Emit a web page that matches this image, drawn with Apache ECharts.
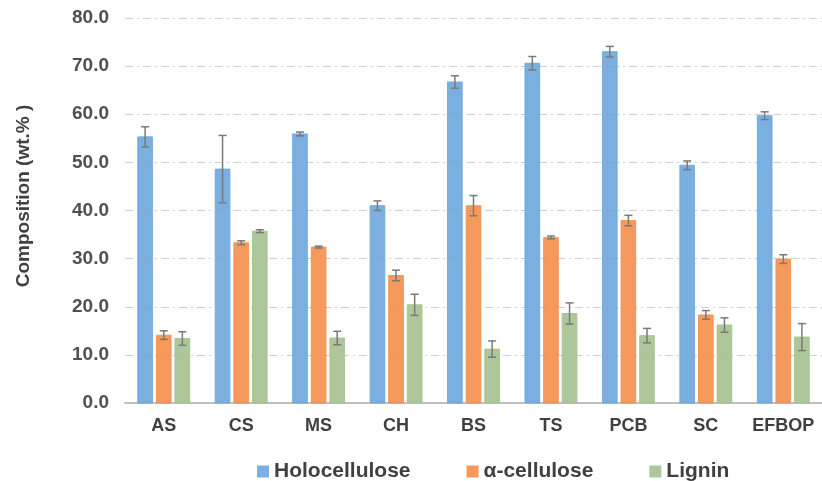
<!DOCTYPE html>
<html>
<head>
<meta charset="utf-8">
<script src="https://cdn.jsdelivr.net/npm/echarts@6/dist/echarts.min.js"></script>
<style>html,body{margin:0;padding:0;background:#fff;}#c{width:822px;height:481px;}</style>
</head>
<body>
<div id="c"></div>
<script>
var categories = ['AS', 'CS', 'MS', 'CH', 'BS', 'TS', 'PCB', 'SC', 'EFBOP'];
var seriesNames = ['Holocellulose', 'α-cellulose', 'Lignin'];
var holocellulose = [55.3, 48.6, 55.9, 41.0, 66.7, 70.6, 73.0, 49.4, 59.7];
var holoErr =       [2.1, 7.0, 0.4, 1.0, 1.3, 1.4, 1.1, 0.9, 0.8];
var alphaCellulose = [14.1, 33.3, 32.4, 26.5, 41.0, 34.4, 37.9, 18.3, 29.9];
var alphaErr =       [0.9, 0.4, 0.2, 1.1, 2.1, 0.3, 1.1, 0.9, 0.9];
var lignin =    [13.4, 35.7, 13.5, 20.4, 11.2, 18.6, 14.0, 16.2, 13.7];
var ligninErr = [1.4, 0.3, 1.4, 2.2, 1.7, 2.2, 1.5, 1.5, 2.8];
var yTicks = [0, 10, 20, 30, 40, 50, 60, 70, 80];
var yTitle = 'Composition (wt.% )';

var colors = ['#6fa8dc', '#f4914e', '#a6c293'];
var values = [holocellulose, alphaCellulose, lignin];
var errors = [holoErr, alphaErr, ligninErr];
var catGap = 0.33, barGap = 0.27, nBars = 3;
var FONT = 'Liberation Sans, Arial, sans-serif';

var series = [];
values.forEach(function (v, i) {
  series.push({
    name: seriesNames[i], type: 'bar', data: v,
    barGap: (barGap * 100) + '%', barCategoryGap: (catGap * 100) + '%',
    itemStyle: { color: colors[i], borderColor: colors[i], opacity: 0.92 }
  });
});
values.forEach(function (v, i) {
  var errData = v.map(function (val, j) { return [j, val - errors[i][j], val + errors[i][j]]; });
  series.push({
    type: 'custom', name: seriesNames[i] + '_err', z: 10, silent: true,
    data: errData,
    renderItem: function (params, api) {
      var band = api.size([1, 0])[0];
      var bw = band * (1 - catGap) / (nBars + (nBars - 1) * barGap);
      var off = (i - 1) * bw * (1 + barGap);
      var lo = api.coord([api.value(0), api.value(1)]);
      var hi = api.coord([api.value(0), api.value(2)]);
      var x = lo[0] + off, cap = 4;
      var st = { stroke: '#7a7a7a', lineWidth: 1.5 };
      return { type: 'group', children: [
        { type: 'line', shape: { x1: x, y1: lo[1], x2: x, y2: hi[1] }, style: st },
        { type: 'line', shape: { x1: x - cap, y1: lo[1], x2: x + cap, y2: lo[1] }, style: st },
        { type: 'line', shape: { x1: x - cap, y1: hi[1], x2: x + cap, y2: hi[1] }, style: st }
      ] };
    }
  });
});

var chart = echarts.init(document.getElementById('c'));
chart.setOption({
  animation: false,
  textStyle: { fontFamily: FONT },
  grid: { left: 125, right: -2, top: 18, bottom: 78 },
  graphic: [{
    type: 'text', x: 24, y: 196, rotation: Math.PI / 2,
    style: { text: yTitle, font: 'bold 19px ' + FONT, fill: '#404040', textAlign: 'center', textVerticalAlign: 'middle' }
  }],
  legend: {
    data: seriesNames, top: 456, left: 252, icon: 'rect',
    itemWidth: 12, itemHeight: 12, itemGap: 56,
    textStyle: { fontSize: 21, fontWeight: 'bold', color: '#404040', fontFamily: FONT }
  },
  xAxis: {
    type: 'category', data: categories,
    axisLine: { lineStyle: { color: '#bfbfbf', width: 2 } },
    axisTick: { show: false },
    axisLabel: { interval: 0, fontSize: 18, fontWeight: 'bold', color: '#404040', margin: 14 }
  },
  yAxis: {
    type: 'value', min: yTicks[0], max: yTicks[yTicks.length - 1], interval: 10,
    axisLine: { show: false }, axisTick: { show: false },
    axisLabel: { fontSize: 19, fontWeight: 'bold', color: '#505050', margin: 16, formatter: function (v) { return v.toFixed(1); } },
    splitLine: { lineStyle: { color: '#d0d0d0', type: [8, 4, 2, 4], width: 1 } }
  },
  series: series
});
</script>
</body>
</html>
